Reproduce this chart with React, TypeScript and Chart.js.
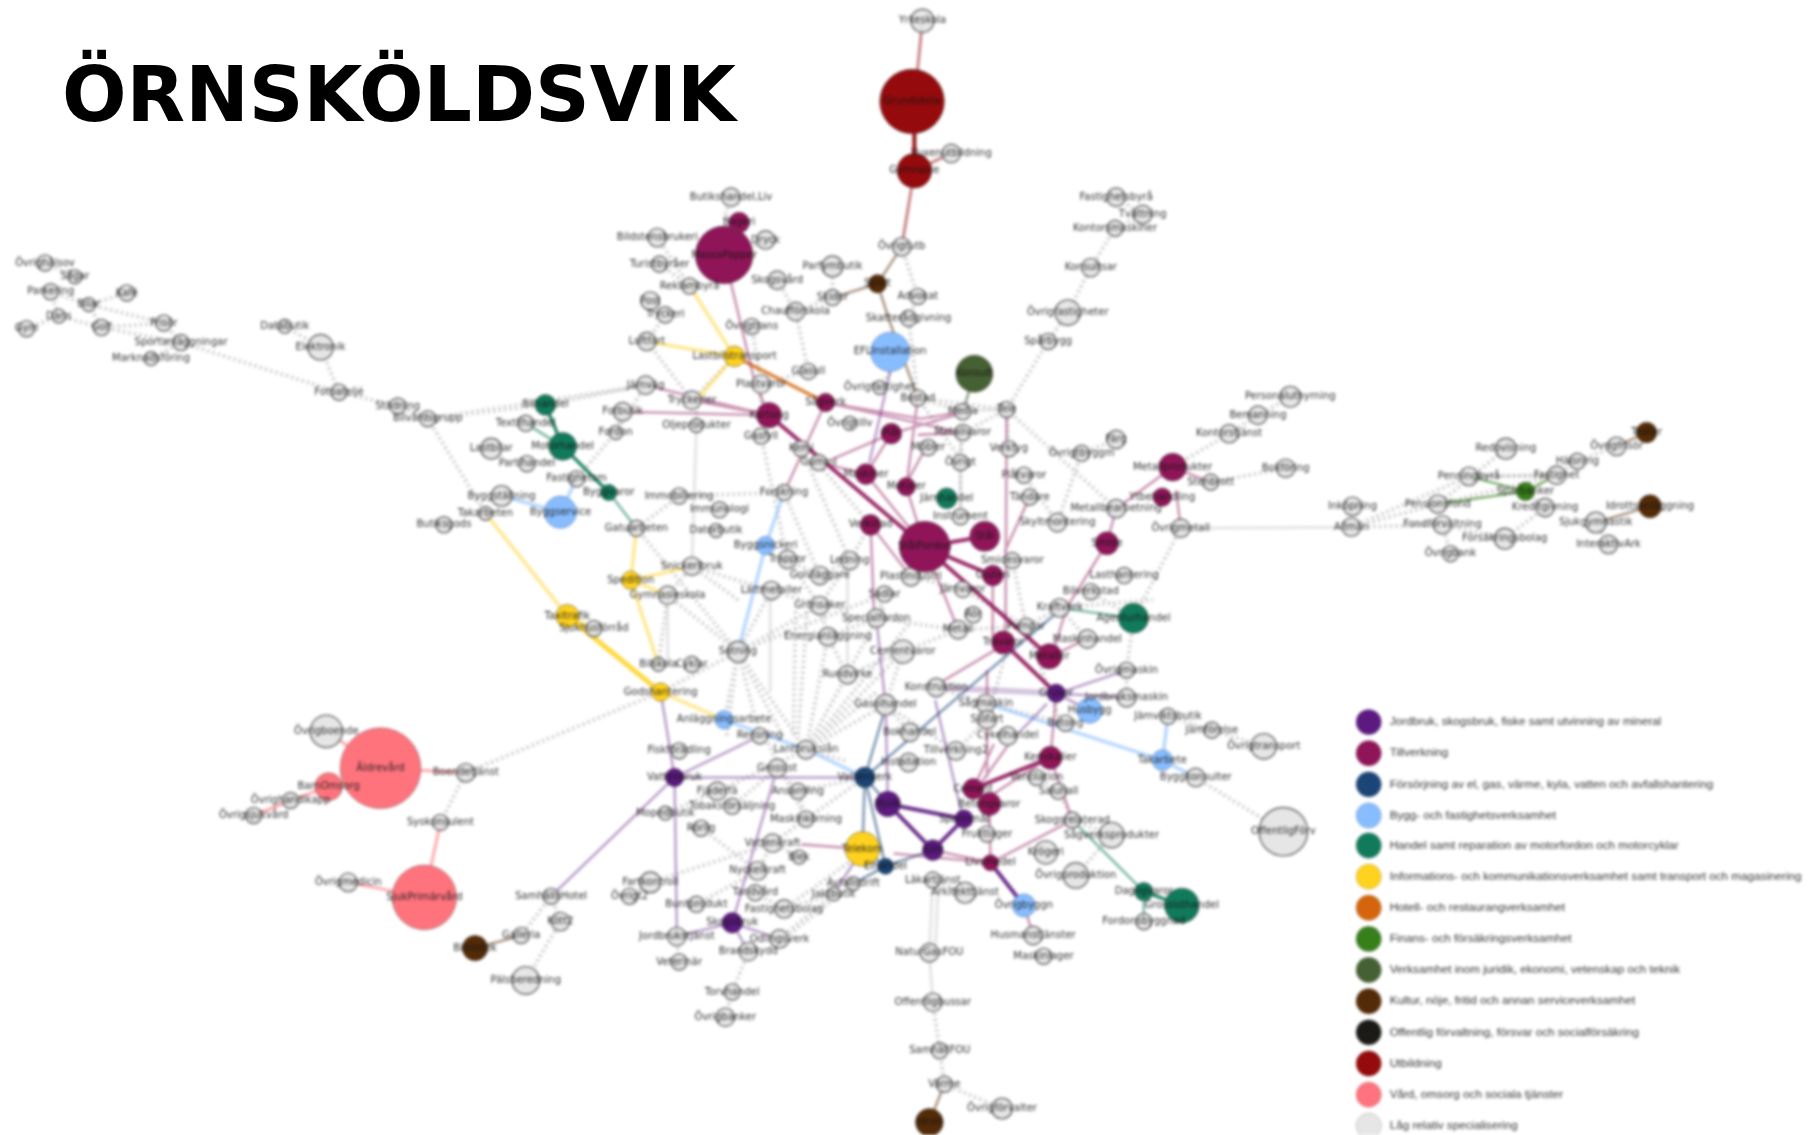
import React, { useEffect, useRef } from "react";
import { Chart, registerables } from "chart.js";

Chart.register(...registerables);

type NodeRow = [string, number, number, number];

const title = "ÖRNSKÖLDSVIK";

const legendLabels = [
  "Jordbruk, skogsbruk, fiske samt utvinning av mineral",
  "Tillverkning",
  "Försörjning av el, gas, värme, kyla, vatten och avfallshantering",
  "Bygg- och fastighetsverksamhet",
  "Handel samt reparation av motorfordon och motorcyklar",
  "Informations- och kommunikationsverksamhet samt transport och magasinering",
  "Hotell- och restaurangverksamhet",
  "Finans- och försäkringsverksamhet",
  "Verksamhet inom juridik, ekonomi, vetenskap och teknik",
  "Kultur, nöje, fritid och annan serviceverksamhet",
  "Offentlig förvaltning, försvar och socialförsäkring",
  "Utbildning",
  "Vård, omsorg och sociala tjänster",
  "Låg relativ specialisering",
];
const legendColors = ["#5c1a80", "#8f1558", "#1b4577", "#87bdff", "#117a5b", "#ffd21f", "#d4650c", "#367f1a", "#456032", "#542b07", "#1c1a17", "#950a0c", "#ff737d", "#e6e6e6"];
const legendY = [626, 653, 680, 707, 733, 760, 787, 814, 841, 868, 895, 922, 949, 976];

const jordbrukNodes: NodeRow[] = [
  ["Vattenbruk", 585, 674, 8], ["Skogsbruk", 635, 800, 9], ["Mjölk", 770, 697, 11], ["Spannmål", 836, 710, 8], ["Kött", 809, 737, 9], ["Gruvor", 916, 601, 8],
];
const tillverkningNodes: NodeRow[] = [
  ["MassaPapper", 628, 221, 25], ["Bageri", 641, 193, 9], ["Kartong", 667, 360, 11], ["Sågverk", 716, 349, 8], ["Plåt", 773, 376, 9], ["Maskiner", 751, 411, 9], ["Motorer", 786, 422, 8],
  ["Verkstad", 755, 455, 9], ["StålFordon", 802, 474, 22], ["Stål", 854, 465, 13], ["Gjuteri", 861, 499, 9], ["Trävaror", 870, 557, 10], ["Metaller", 910, 569, 11],
  ["Kemikalier", 911, 657, 10], ["Cement", 844, 684, 9], ["Betongvaror", 858, 697, 10], ["Livsmedel", 859, 748, 7], ["Metallprodukter", 1017, 405, 12], ["Ytbehandling", 1008, 431, 8], ["Smide", 960, 471, 10],
];
const forsorjningNodes: NodeRow[] = [["Vattenverk", 750, 674, 9], ["Elhandel", 768, 751, 7]];
const byggNodes: NodeRow[] = [
  ["EFLInstallation", 772, 305, 17], ["Byggservice", 486, 444, 14], ["Byggsnickeri", 664, 473, 8], ["Anläggningsarbete", 628, 624, 8], ["Husbygg", 945, 616, 11], ["Takarbete", 1008, 659, 9], ["Övrigbyggn", 888, 785, 10],
];
const handelNodes: NodeRow[] = [
  ["Bilhandel", 473, 351, 9], ["Motorhandel", 488, 387, 12], ["Byggvaror", 528, 427, 7], ["Järnhandel", 821, 432, 9], ["Agenturhandel", 983, 536, 13], ["Dagligvaror", 992, 773, 8], ["Grossisthandel", 1025, 785, 15],
];
const infoNodes: NodeRow[] = [
  ["Lastbilstransport", 637, 309, 9], ["Spedition", 547, 503, 8], ["Taxitrafik", 492, 534, 10], ["Godshantering", 573, 600, 8], ["Telekom", 748, 736, 15],
];
const finansNodes: NodeRow[] = [["Sparbanker", 1323, 426, 8]];
const juridikNodes: NodeRow[] = [["Konsult", 845, 324, 16]];
const kulturNodes: NodeRow[] = [["Sport", 761, 246, 8], ["Bibliotek", 412, 822, 11], ["Idrott", 806, 973, 12], ["Teater", 1428, 375, 9], ["Idrottsanläggning", 1431, 439, 10]];
const utbildningNodes: NodeRow[] = [["Grundskola", 791, 88, 28], ["Gymnasie", 793, 148, 15]];
const vardNodes: NodeRow[] = [["Äldrevård", 330, 666, 35], ["SjukPrimärvård", 368, 778, 28], ["BarnOmsorg", 285, 682, 12]];
const lagNodes: NodeRow[] = [
  ["Yrkeskola", 800, 18, 10], ["Vuxenutbildning", 825, 133, 8], ["Övrigtutb", 782, 214, 8], ["Övrighälsov", 39, 228, 7], ["Sågar", 65, 240, 6], ["Parkering", 44, 253, 7], ["Bilar", 77, 264, 6], ["Kafé", 110, 254, 7], ["Dans", 51, 274, 6], ["Gym", 23, 285, 7], ["Golf", 88, 284, 7], ["Frisör", 142, 280, 7], ["Sportanläggningar", 157, 297, 7], ["Marknadsföring", 131, 311, 6], ["Databutik", 247, 283, 6], ["Elektronik", 278, 301, 11], ["Fotoateljé", 294, 340, 7], ["Städning", 345, 352, 7], ["Bilvårdsgrupp", 371, 363, 7],
  ["Textilhandel", 456, 367, 7], ["Lastbilar", 426, 389, 9], ["Partihandel", 457, 402, 7], ["Fastighetsm", 500, 415, 7], ["Byggställning", 435, 430, 9], ["Takarbeten", 421, 445, 6], ["Butiksgods", 385, 455, 7], ["Gatuarbeten", 552, 458, 7], ["Immobiliering", 589, 430, 7], ["Forskning", 680, 427, 7], ["Fotbutik", 540, 357, 8], ["Fordon", 534, 375, 6], ["Järnväg", 560, 334, 8], ["Tryckerier", 600, 347, 8], ["Oljeprodukter", 604, 369, 6], ["Plastvaror", 660, 333, 8], ["Gasfyll", 660, 378, 7], ["Glasull", 701, 322, 7], ["Övrigtillv", 737, 367, 6], ["Kemi", 695, 389, 7], ["Gummi", 710, 401, 7],
  ["Butikshandel,Liv", 634, 171, 8], ["Bildstensbrukeri", 570, 206, 8], ["Dryck", 664, 208, 8], ["Turistbyråer", 572, 229, 7], ["Reklambyrå", 598, 248, 7], ["Post", 564, 261, 8], ["Tryckeri", 577, 273, 7], ["Luftfart", 561, 296, 8], ["Skogsvård", 674, 243, 8], ["Parfymbutik", 722, 231, 9], ["Skidor", 722, 258, 7], ["Chaufförskola", 690, 270, 8], ["Övrigtrans", 652, 283, 7], ["Advokat", 796, 257, 7], ["Skatterådgivning", 788, 276, 7], ["Övrigfastighet", 763, 336, 6], ["Bostad", 796, 345, 7], ["Tele", 873, 355, 7], ["Media", 835, 357, 7], ["Metallvaror", 835, 375, 7], ["Möbler", 805, 388, 7], ["Övrigt", 833, 401, 7], ["Instrument", 833, 448, 7], ["Verktyg", 875, 389, 7], ["Plåtvaror", 888, 412, 7], ["Tändare", 893, 431, 7], ["Skyltmontering", 917, 453, 8], ["Övrigtbyggm", 938, 393, 7], ["Färg", 968, 381, 8],
  ["Fastighetsbyrå", 968, 171, 8], ["Tvättning", 991, 186, 8], ["Kontorsmaskiner", 967, 198, 7], ["Konsultsar", 946, 232, 8], ["Övrigfastigheter", 926, 271, 11], ["Spårbygg", 909, 296, 7], ["Personaluthyrning", 1119, 344, 9], ["Bemanning", 1091, 360, 8], ["Kontorstjänst", 1066, 376, 8], ["Stenbrott", 1050, 418, 7], ["Bokföring", 1115, 406, 8], ["Metallbearbetning", 968, 441, 8], ["Övrigmetall", 1024, 458, 8],
  ["Inköpning", 1173, 439, 8], ["Allmän", 1172, 457, 8], ["Pensionsfond", 1247, 437, 8], ["Fondförvaltning", 1251, 455, 8], ["Försäkringsbolag", 1305, 467, 9], ["Övrigbank", 1258, 480, 7], ["Penningbyrå", 1274, 413, 8], ["Redovisning", 1306, 389, 9], ["Fastighet", 1350, 412, 8], ["Kreditgivning", 1340, 440, 8], ["Hälsning", 1368, 400, 7], ["Övrigfrisör", 1402, 387, 8], ["Sjukgymnastik", 1384, 453, 9], ["InteraktivArk", 1395, 472, 8],
  ["Immunologi", 624, 442, 7], ["Datorbutik", 621, 460, 6], ["Snickeribruk", 600, 491, 8], ["Gymnasieskola", 579, 516, 8], ["Trappor", 683, 485, 8], ["Golvläggare", 711, 499, 8], ["Ledning", 737, 486, 8], ["Lättmetaller", 669, 512, 8], ["Grönsaker", 711, 525, 8], ["Sadlar", 767, 515, 7], ["Specialfordon", 760, 536, 8], ["Energianläggning", 718, 552, 8], ["Cementvaror", 783, 565, 10], ["Rundvirke", 735, 585, 8], ["Gasolhandel", 768, 611, 9], ["Sotning", 640, 565, 9], ["Bilskola", 571, 576, 6], ["Cyklar", 600, 576, 7], ["Metall", 831, 546, 8], ["Rör", 844, 533, 7], ["Pumpar", 890, 543, 7], ["Smidesvaror", 878, 486, 7], ["Järnvaror", 835, 511, 7], ["Plastindustri", 790, 500, 8], ["Konstruktion", 812, 596, 8], ["Sågmaskin", 855, 610, 8], ["Sjöfart", 856, 624, 8], ["Cykelhandel", 874, 638, 8], ["Betong", 924, 627, 7], ["Kraftverk", 919, 527, 8], ["Maskinhandel", 943, 554, 8], ["Bilverkstad", 946, 513, 7], ["Lasthantering", 975, 499, 7], ["Övrigmaskin", 977, 581, 7], ["Jordbruksmaskin", 977, 605, 8], ["Jämviktsbutik", 1013, 621, 7], ["Jämförelse", 1051, 633, 7], ["Övrigtransport", 1096, 647, 11], ["Byggkonsulter", 1037, 674, 8], ["OffentligFörv", 1113, 721, 21],
  ["Bokhandel", 789, 635, 8], ["Tillverkning2", 829, 651, 8], ["Installation", 788, 661, 8], ["Ventilation", 899, 674, 7], ["Saluhall", 918, 686, 7], ["Skogsrelaterad", 930, 711, 7], ["Sågverksprodukter", 964, 724, 11], ["Fruktlager", 856, 723, 7], ["Krögeri", 907, 739, 10], ["Övrigproduktion", 933, 759, 11], ["Fordonsbyggnad", 992, 799, 7], ["Husmanstjänster", 896, 811, 8], ["Maskinlager", 905, 829, 7], ["Läkartjänst", 809, 763, 7], ["Arkitekttjänst", 837, 774, 9], ["NaturGasFOU", 806, 826, 8], ["Offentligbussar", 809, 869, 8], ["SamhällFOU", 815, 911, 7], ["Värme", 819, 940, 7], ["Övrigförvalter", 869, 961, 9],
  ["Lantbrukslån", 699, 650, 8], ["Rensning", 659, 638, 7], ["Fiskförädling", 589, 651, 7], ["Grossist", 674, 666, 8], ["Fjäderfä", 622, 686, 8], ["Tobaksförsäljning", 635, 699, 7], ["Ansamling", 692, 686, 7], ["Maskinkörning", 699, 710, 7], ["Mopedbutik", 577, 705, 6], ["Rörlig", 608, 718, 7], ["Vattenkraft", 670, 731, 8], ["Blek", 693, 743, 6], ["Nyckelkraft", 657, 755, 8], ["Fartkontroll", 564, 765, 9], ["Övrigt2", 546, 777, 7], ["Tandvård", 655, 774, 7], ["Buntprodukt", 604, 784, 7], ["Fastighetsbolag", 680, 788, 8], ["Jordbrukstjänst", 587, 812, 8], ["Odlingsverk", 676, 814, 8], ["Brandskydd", 649, 825, 8], ["Veterinär", 589, 834, 7], ["Torvhandel", 635, 860, 7], ["Övrigbanker", 629, 882, 8], ["Avfallsdrift", 740, 766, 6], ["Jaktbutik", 723, 775, 6],
  ["Sjukhusförråd", 515, 545, 7], ["SamhällsHotel", 478, 777, 7], ["Kött2", 486, 799, 8], ["Galleria", 452, 811, 7], ["Pälsberedning", 456, 850, 12], ["Övrigmedicin", 302, 765, 8], ["Syokonsulent", 382, 713, 7], ["Boendetjänst", 404, 670, 8], ["Övrigboende", 283, 634, 14], ["Övrighandikapp", 252, 694, 7], ["Övrigsjukvård", 220, 707, 7],
];

const legendDotRadius = 11;
const labelFont = "10px 'DejaVu Sans'";

const grayHatch: number[][] = [
  [39, 228, 65, 240], [44, 253, 51, 274], [44, 253, 77, 264], [77, 264, 110, 254], [77, 264, 88, 284], [23, 285, 51, 274], [51, 274, 88, 284], [88, 284, 157, 297], [77, 264, 142, 280], [142, 280, 157, 297], [88, 284, 142, 280], [131, 311, 157, 297], [157, 297, 294, 340, 345, 352, 371, 363], [278, 301, 294, 340], [247, 283, 278, 301], [371, 363, 421, 445], [371, 363, 473, 351], [371, 363, 560, 334], [473, 351, 560, 334],
  [560, 334, 534, 375, 500, 415], [540, 357, 534, 375], [604, 347, 604, 369], [564, 261, 577, 273, 561, 296, 600, 347, 637, 309], [570, 206, 598, 248], [572, 229, 598, 248], [634, 171, 628, 190], [664, 208, 645, 218], [674, 243, 690, 270], [722, 231, 722, 258], [722, 258, 690, 270, 701, 322, 660, 333], [652, 283, 660, 333], [660, 333, 660, 378], [796, 257, 782, 214], [796, 257, 788, 276, 796, 345], [763, 336, 772, 322],
  [796, 345, 873, 355], [796, 345, 835, 357], [873, 355, 909, 296, 926, 271, 946, 232, 967, 198, 991, 186, 968, 171], [873, 355, 968, 441], [938, 393, 968, 381], [938, 393, 917, 453], [875, 389, 873, 355], [888, 412, 917, 453], [1017, 405, 1066, 376, 1091, 360, 1119, 344], [1050, 418, 1115, 406], [1024, 458, 983, 536], [977, 581, 977, 605], [983, 536, 946, 513], [983, 536, 977, 581], [1037, 674, 1113, 721], [1013, 621, 1051, 633, 1096, 647],
  [1172, 457, 1247, 437, 1306, 389], [1172, 457, 1274, 413], [1251, 455, 1305, 467], [1251, 455, 1258, 480], [1172, 457, 1173, 439], [1172, 457, 1251, 455], [1274, 413, 1350, 412, 1368, 400, 1402, 387], [1340, 440, 1323, 426], [1340, 440, 1305, 467], [1384, 453, 1395, 472], [1247, 437, 1350, 412],
  [579, 516, 640, 565], [640, 565, 711, 525], [640, 565, 573, 600], [640, 565, 699, 650], [640, 565, 628, 624], [640, 565, 659, 638], [640, 565, 767, 515], [552, 458, 640, 565], [680, 427, 589, 430, 552, 458], [683, 485, 711, 525], [680, 427, 711, 499, 737, 486, 755, 455], [711, 525, 718, 552, 699, 650], [718, 552, 735, 585], [699, 650, 767, 525], [699, 650, 735, 585], [699, 650, 783, 565], [699, 650, 768, 611], [573, 600, 404, 670, 382, 713], [579, 516, 571, 576], [600, 491, 579, 516], [600, 491, 669, 512, 711, 525], [767, 515, 760, 536, 718, 552], [760, 536, 831, 546, 890, 543], [783, 565, 831, 546], [783, 565, 768, 611, 829, 651, 856, 624], [812, 596, 855, 610, 924, 627], [878, 486, 890, 543], [835, 511, 890, 543, 919, 527, 943, 554], [790, 500, 835, 511], [833, 448, 833, 401, 835, 375],
  [622, 686, 699, 650], [635, 699, 674, 666, 692, 686, 699, 710, 670, 731, 693, 743], [657, 755, 670, 731], [608, 718, 657, 755], [577, 705, 622, 686], [564, 765, 670, 731], [546, 777, 564, 765], [604, 784, 657, 755], [655, 774, 680, 788, 723, 775], [681, 813, 740, 766], [676, 814, 723, 775], [649, 825, 635, 860, 629, 882], [587, 812, 589, 834], [478, 777, 452, 811], [486, 799, 456, 850], [478, 777, 486, 799],
  [815, 911, 819, 940, 869, 961], [837, 774, 809, 763], [856, 723, 858, 697], [918, 686, 930, 711], [899, 674, 918, 686], [964, 724, 930, 711], [933, 759, 964, 724], [691, 686, 750, 674], [701, 709, 750, 674], [809, 869, 815, 911],
  [640, 565, 680, 640], [640, 565, 630, 640], [690, 530, 688, 640], [700, 530, 692, 640], [737, 486, 711, 525], [669, 512, 640, 565], [600, 491, 640, 520], [699, 650, 789, 540], [699, 650, 760, 600], [699, 650, 735, 660], [735, 585, 783, 565], [711, 499, 683, 485], [789, 635, 768, 611], [680, 788, 740, 745], [664, 640, 699, 710], [877, 550, 856, 624], [890, 543, 920, 627], [918, 527, 1000, 520], [873, 355, 835, 375], [796, 345, 835, 401], [708, 400, 755, 455], [695, 389, 737, 486], [660, 378, 683, 485],
];
const grayPale: number[][] = [
  [604, 369, 600, 491], [1024, 458, 1172, 457], [806, 826, 809, 763], [811, 826, 814, 763], [806, 826, 809, 869], [835, 356, 873, 355], [1274, 413, 1350, 412], [833, 375, 833, 448], [579, 520, 579, 576], [668, 513, 668, 600], [735, 486, 735, 580],
];
const tillverkningStrong: number[][] = [[667, 360, 802, 474], [802, 474, 854, 465], [802, 474, 861, 499], [802, 474, 910, 569], [870, 557, 916, 601], [844, 684, 911, 657]];
const tillverkningLight: number[][] = [
  [600, 347, 667, 360], [540, 357, 667, 360], [560, 334, 667, 360], [628, 221, 655, 333, 667, 360], [716, 349, 833, 375], [716, 349, 799, 363, 835, 357], [716, 349, 680, 427], [773, 376, 835, 358], [773, 376, 751, 411, 802, 474], [786, 422, 802, 474], [751, 411, 710, 401], [773, 376, 722, 398], [796, 345, 786, 422], [786, 419, 803, 388], [796, 377, 840, 375], [755, 455, 758, 530], [755, 455, 790, 500], [802, 474, 831, 546], [873, 355, 872, 557], [893, 431, 871, 479], [1017, 405, 968, 441, 960, 471], [1020, 425, 1024, 458], [1017, 405, 1050, 418], [960, 471, 925, 527, 915, 560], [864, 563, 815, 592], [861, 499, 861, 557], [910, 570, 940, 555], [916, 601, 911, 657, 930, 711, 859, 748], [859, 748, 809, 737], [695, 732, 748, 736], [775, 740, 859, 748], [859, 748, 858, 697, 844, 684], [844, 684, 862, 645], [850, 680, 875, 645], [859, 690, 905, 660], [856, 581, 856, 674], [888, 785, 896, 811],
];
const jordbrukStrong: number[][] = [[770, 697, 836, 710], [770, 697, 809, 737], [836, 710, 809, 737], [859, 748, 888, 785]];
const jordbrukLight: number[][] = [[573, 600, 585, 674], [585, 674, 478, 777], [585, 674, 587, 812], [585, 674, 659, 638], [585, 674, 750, 674], [674, 666, 635, 800], [635, 800, 587, 812], [635, 800, 649, 825], [635, 800, 676, 814], [921, 600, 977, 581], [916, 601, 977, 605], [916, 601, 945, 616], [908, 610, 884, 635], [811, 607, 834, 705], [772, 322, 754, 401], [760, 536, 768, 611, 770, 697], [723, 775, 748, 736]];
const jordbrukWide: number[][] = [[916, 601, 812, 596]];
const forsorjningEdges: number[][] = [[750, 674, 766, 620], [750, 674, 809, 623, 918, 530], [750, 674, 748, 736], [750, 674, 768, 751], [750, 674, 770, 697], [748, 736, 768, 751], [768, 751, 809, 737], [740, 766, 768, 751]];
const byggEdges: number[][] = [[628, 624, 700, 650, 750, 674], [664, 473, 680, 427], [664, 473, 640, 565], [1008, 659, 1013, 621], [1008, 659, 1037, 674], [1008, 659, 862, 612], [486, 444, 435, 430], [486, 444, 500, 415]];
const handelStrong: number[][] = [[473, 351, 488, 387], [488, 387, 528, 427], [992, 773, 1025, 785]];
const handelLight: number[][] = [[528, 427, 552, 458], [456, 367, 488, 387], [983, 536, 919, 527], [992, 773, 992, 799], [930, 711, 992, 773]];
const infoStrong: number[][] = [[492, 534, 573, 600]];
const infoLight: number[][] = [[421, 445, 492, 534], [637, 309, 561, 296], [637, 309, 598, 248], [637, 309, 604, 347], [547, 503, 600, 491], [547, 503, 579, 516], [547, 503, 552, 458], [547, 503, 571, 576], [573, 600, 628, 624], [492, 534, 515, 545]];
const hotellEdges: number[][] = [[637, 309, 716, 349]];
const finansEdges: number[][] = [[1323, 426, 1247, 437], [1323, 426, 1274, 413], [1323, 426, 1350, 412]];
const juridikEdges: number[][] = [[845, 324, 835, 357]];
const kulturEdges: number[][] = [[761, 246, 722, 258], [761, 246, 782, 214], [761, 246, 772, 280, 796, 345], [1428, 375, 1402, 387], [1431, 439, 1384, 453], [412, 822, 452, 811], [806, 973, 819, 940]];
const utbildningEdges: number[][] = [[800, 18, 793, 88], [793, 148, 825, 133], [793, 148, 782, 214]];
const utbildningStrong: number[][] = [[793, 88, 793, 148]];
const vardEdges: number[][] = [[330, 666, 283, 634], [330, 666, 404, 670], [285, 682, 252, 694], [252, 694, 220, 707], [368, 778, 382, 713], [368, 778, 302, 765]];

function edgeSet(lines: number[][], color: string, borderWidth: number, dash: number[] = []) {
  const data: ({ x: number; y: number | null })[] = [];
  for (const line of lines) {
    for (let i = 0; i < line.length; i += 2) data.push({ x: line[i], y: line[i + 1] });
    data.push({ x: line[0], y: null });
  }
  return { type: "scatter" as const, data, showLine: true, spanGaps: false, pointRadius: 0, borderColor: color, borderWidth, borderDash: dash, borderCapStyle: "butt" as const, order: 10, clip: false as const };
}

function nodeSet(rows: NodeRow[], color: string, border = "rgba(70,70,70,0.55)", ring = 1) {
  return {
    type: "scatter" as const,
    data: rows.map(([label, x, y]) => ({ x, y, label })),
    pointRadius: rows.map((r) => r[3] * (1808 / 1568)),
    backgroundColor: color,
    borderColor: border,
    pointBorderWidth: ring,
    showLine: false,
    order: 1,
    clip: false as const,
  };
}

const labelPlugin = {
  id: "nodeLabels",
  afterDatasetsDraw(chart: any) {
    const ctx = chart.ctx;
    ctx.save();
    ctx.textBaseline = "middle";
    chart.data.datasets.forEach((ds: any, i: number) => {
      if (ds.showLine) return;
      const meta = chart.getDatasetMeta(i);
      const isLegend = ds.isLegend;
      ctx.font = isLegend ? "11.7px 'Liberation Sans'" : labelFont;
      ctx.textAlign = isLegend ? "left" : "center";
      ctx.fillStyle = isLegend ? "#333" : "rgba(20,20,20,0.9)";
      meta.data.forEach((el: any, j: number) => {
        const label = ds.data[j].label;
        ctx.fillText(label, isLegend ? el.x + 21 : el.x, el.y);
      });
    });
    ctx.restore();
  },
};

export default function App() {
  const ref = useRef<HTMLCanvasElement>(null);
  useEffect(() => {
    document.body.style.background = "#fff";
    const datasets: any[] = [
      {
        type: "scatter",
        isLegend: true,
        data: legendLabels.map((label, i) => ({ x: 1187, y: legendY[i], label })),
        pointRadius: legendDotRadius * (1808 / 1568),
        backgroundColor: legendColors,
        borderColor: "rgba(120,120,120,0.3)",
        pointBorderWidth: 1,
        showLine: false,
        order: 1,
        clip: false,
      },
      nodeSet(jordbrukNodes, legendColors[0]),
      nodeSet(tillverkningNodes, legendColors[1]),
      nodeSet(forsorjningNodes, legendColors[2]),
      nodeSet(byggNodes, legendColors[3], "rgba(90,120,160,0.6)"),
      nodeSet(handelNodes, legendColors[4]),
      nodeSet(infoNodes, legendColors[5]),
      nodeSet(finansNodes, legendColors[7]),
      nodeSet(juridikNodes, legendColors[8]),
      nodeSet(kulturNodes, legendColors[9]),
      nodeSet(utbildningNodes, legendColors[11]),
      nodeSet(vardNodes, legendColors[12], "rgba(120,90,90,0.6)"),
      nodeSet(lagNodes, "rgba(228,228,228,0.92)", "rgba(85,85,85,0.9)", 1.4),
      edgeSet(tillverkningStrong, "rgba(143,21,88,0.9)", 4),
      edgeSet(tillverkningLight, "rgba(143,21,88,0.45)", 2.6),
      edgeSet(jordbrukStrong, "rgba(92,26,128,0.9)", 4),
      edgeSet(jordbrukLight, "rgba(92,26,128,0.42)", 2.6),
      edgeSet(jordbrukWide, "rgba(92,26,128,0.25)", 6),
      edgeSet(forsorjningEdges, "rgba(27,69,119,0.55)", 2.6),
      edgeSet(byggEdges, "rgba(135,189,255,0.6)", 3.5),
      edgeSet(handelStrong, "rgba(17,122,91,0.9)", 3.5),
      edgeSet(handelLight, "rgba(17,122,91,0.55)", 2.5),
      edgeSet(infoStrong, "rgba(255,210,31,0.85)", 5),
      edgeSet(infoLight, "rgba(255,210,31,0.5)", 3.5),
      edgeSet(hotellEdges, "rgba(212,101,12,0.8)", 3.5),
      edgeSet(finansEdges, "rgba(54,127,26,0.65)", 2.5),
      edgeSet(juridikEdges, "rgba(69,96,50,0.6)", 2.5),
      edgeSet(kulturEdges, "rgba(84,43,7,0.5)", 2.5),
      edgeSet(utbildningEdges, "rgba(149,10,12,0.5)", 3),
      edgeSet(utbildningStrong, "rgba(149,10,12,0.95)", 4),
      edgeSet(vardEdges, "rgba(255,115,125,0.6)", 3),
      edgeSet(grayHatch, "rgba(150,150,150,0.5)", 4, [2, 3.5]),
      edgeSet(grayPale, "rgba(170,170,170,0.3)", 3),
    ];
    const chart = new Chart(ref.current!, {
      type: "scatter",
      data: { datasets },
      options: {
        animation: false,
        responsive: false,
        devicePixelRatio: 1,
        events: [],
        layout: { padding: 0, autoPadding: false },
        plugins: { legend: { display: false }, tooltip: { enabled: false }, title: { display: false } },
        scales: {
          x: { type: "linear", min: 0, max: 1568, display: false },
          y: { type: "linear", min: 0, max: 984, reverse: true, display: false },
        },
      },
      plugins: [labelPlugin],
    } as any);
    return () => chart.destroy();
  }, []);
  return (
    <div style={{ position: "absolute", left: 0, top: 0, width: 1808, height: 1135, overflow: "hidden", background: "#fff" }}>
      <canvas ref={ref} width={1808} height={1135} style={{ position: "absolute", left: 0, top: 0, width: 1808, height: 1135, filter: "blur(1.7px)" }} />
      <div style={{ position: "absolute", left: 62, top: 57, fontFamily: "'DejaVu Sans'", fontWeight: 700, fontSize: 76, lineHeight: "76px", color: "#000", whiteSpace: "nowrap" }}>{title}</div>
    </div>
  );
}
